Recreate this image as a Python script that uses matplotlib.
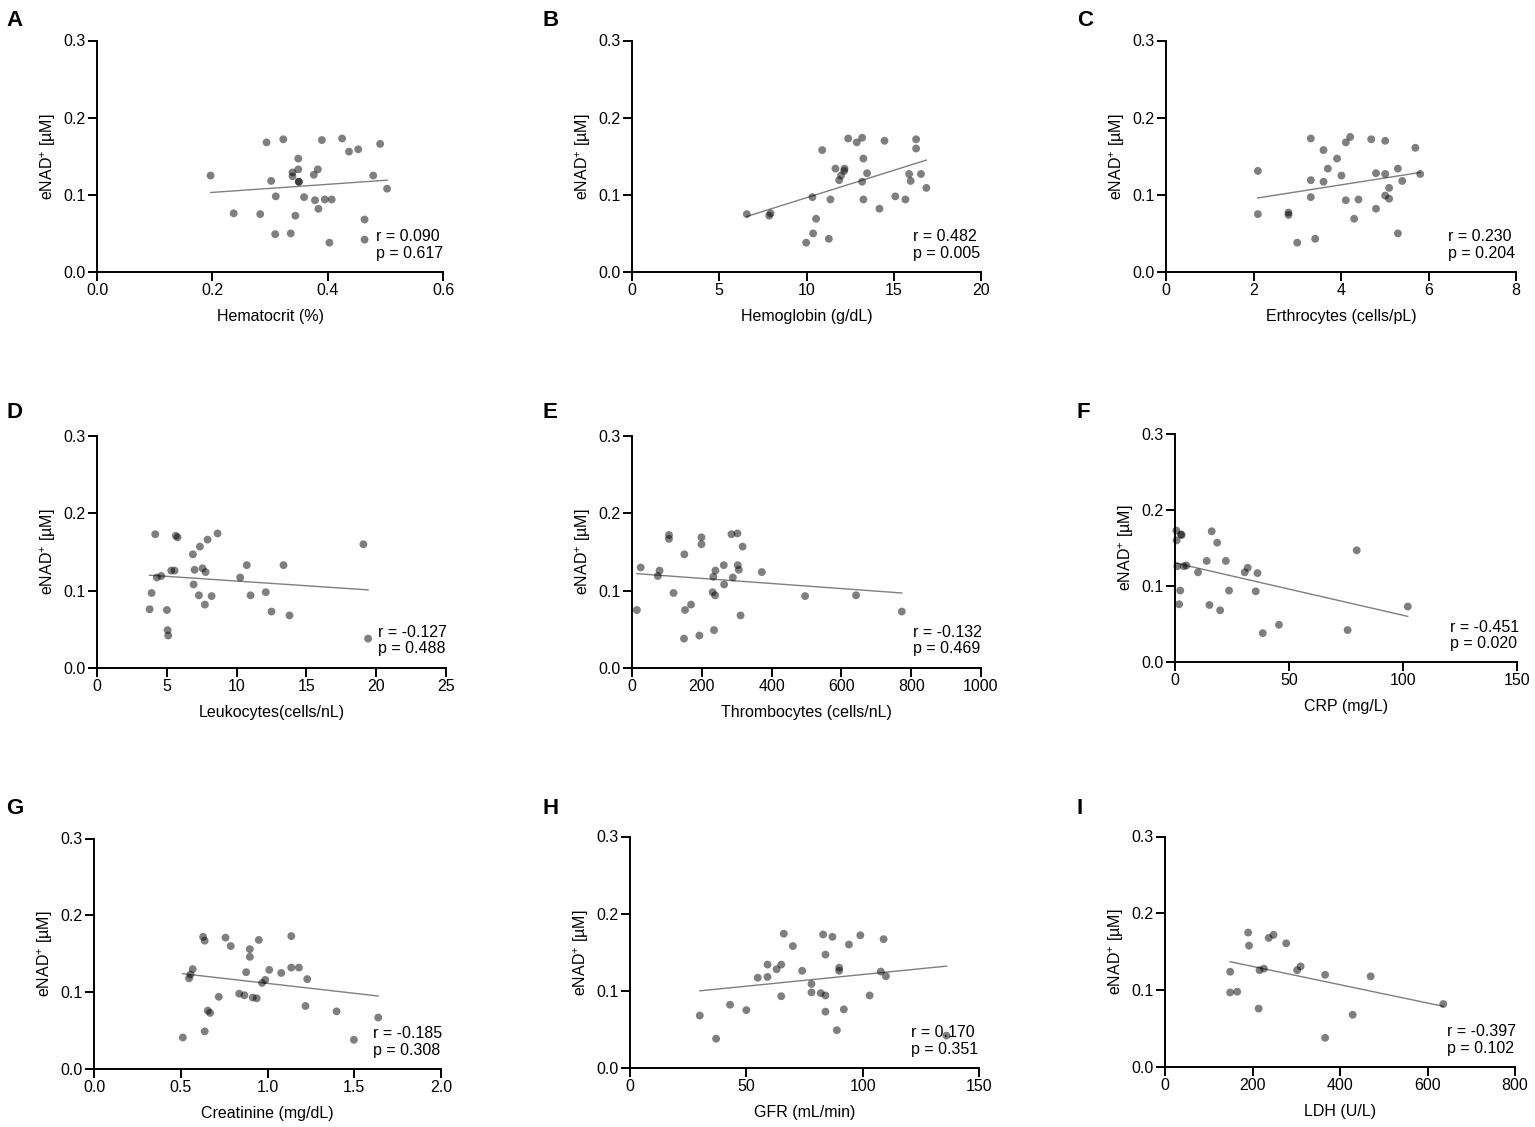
import numpy as np
import matplotlib
matplotlib.use('Agg')
import matplotlib.pyplot as plt

plt.rcParams['font.family'] = ['Liberation Sans', 'DejaVu Sans']
plt.rcParams['mathtext.fontset'] = 'custom'
plt.rcParams['mathtext.rm'] = 'Liberation Sans'
plt.rcParams['mathtext.it'] = 'Liberation Sans:italic'

# values
hct_x = [0.197, 0.294, 0.323, 0.390, 0.425, 0.437, 0.453, 0.491, 0.349, 0.339, 0.349,
         0.383, 0.376, 0.339, 0.302, 0.350, 0.350, 0.479, 0.503, 0.310, 0.359, 0.378,
         0.395, 0.407, 0.384, 0.237, 0.283, 0.344, 0.464, 0.309, 0.336, 0.403, 0.464]
hct_y = [0.125, 0.168, 0.172, 0.171, 0.173, 0.156, 0.159, 0.166, 0.147, 0.129, 0.133,
         0.133, 0.126, 0.124, 0.118, 0.117, 0.117, 0.125, 0.108, 0.098, 0.097, 0.093,
         0.094, 0.094, 0.082, 0.076, 0.075, 0.073, 0.068, 0.049, 0.050, 0.038, 0.042]

hb_x = [6.58, 7.86, 7.94, 10.90, 12.39, 13.19, 12.88, 14.47, 16.28, 16.28, 13.26, 11.66,
        12.18, 12.16, 11.98, 11.87, 13.47, 13.19, 15.88, 16.56, 15.97, 16.87, 10.34, 11.37,
        13.26, 15.09, 15.67, 14.18, 10.55, 10.38, 9.98, 11.28]
hb_y = [0.075, 0.073, 0.076, 0.158, 0.173, 0.174, 0.168, 0.170, 0.172, 0.160, 0.147, 0.134,
        0.134, 0.131, 0.125, 0.119, 0.128, 0.117, 0.127, 0.127, 0.118, 0.109, 0.097, 0.094,
        0.094, 0.098, 0.094, 0.082, 0.069, 0.050, 0.038, 0.043]

ery_x = [2.10, 2.10, 2.80, 2.80, 3.31, 3.31, 3.31, 3.41, 3.00, 3.60, 3.70, 3.60, 3.91, 4.01,
         4.11, 4.21, 4.11, 4.40, 4.30, 4.69, 5.01, 4.80, 5.01, 4.80, 5.01, 5.10, 5.10, 5.30,
         5.40, 5.30, 5.70, 5.81]
ery_y = [0.131, 0.075, 0.077, 0.074, 0.173, 0.119, 0.097, 0.043, 0.038, 0.158, 0.134, 0.117,
         0.147, 0.125, 0.168, 0.175, 0.093, 0.094, 0.069, 0.172, 0.170, 0.128, 0.127, 0.082,
         0.099, 0.095, 0.109, 0.134, 0.118, 0.050, 0.161, 0.127]

leu_x = [3.77, 3.91, 4.17, 4.29, 4.60, 5.01, 5.06, 5.10, 5.32, 5.56, 5.65, 5.77, 6.87, 6.92,
         6.99, 7.37, 7.30, 7.56, 7.78, 7.73, 7.92, 8.21, 8.64, 10.26, 10.73, 11.0, 12.09,
         12.50, 13.36, 13.79, 19.08, 19.42]
leu_y = [0.076, 0.097, 0.173, 0.117, 0.119, 0.075, 0.049, 0.042, 0.126, 0.126, 0.171, 0.169,
         0.147, 0.108, 0.127, 0.157, 0.094, 0.129, 0.124, 0.082, 0.166, 0.093, 0.174, 0.117,
         0.133, 0.094, 0.098, 0.073, 0.133, 0.068, 0.160, 0.038]

thr_x = [14, 25, 74, 79, 106, 106, 119, 150, 152, 169, 149, 193, 199, 199, 231, 238, 233,
         239, 235, 264, 263, 285, 302, 317, 289, 303, 306, 311, 372, 496, 642, 773]
thr_y = [0.075, 0.130, 0.119, 0.126, 0.172, 0.167, 0.097, 0.147, 0.075, 0.082, 0.038, 0.042,
         0.169, 0.160, 0.098, 0.094, 0.118, 0.126, 0.049, 0.108, 0.133, 0.173, 0.174, 0.157,
         0.117, 0.133, 0.127, 0.068, 0.124, 0.093, 0.094, 0.073]

crp_x = [0.6, 0.7, 1.0, 1.8, 2.3, 2.6, 2.9, 3.8, 5.0, 10.1, 13.9, 15.1, 16.1, 18.5, 19.8,
         22.3, 23.7, 30.6, 31.9, 36.2, 35.4, 38.5, 45.6, 75.7, 79.7, 102.1]
crp_y = [0.173, 0.160, 0.126, 0.076, 0.094, 0.168, 0.167, 0.126, 0.127, 0.118, 0.133, 0.075,
         0.172, 0.157, 0.068, 0.133, 0.094, 0.118, 0.124, 0.117, 0.093, 0.038, 0.049, 0.042,
         0.147, 0.073]

cre_x = [0.512, 0.548, 0.556, 0.569, 0.629, 0.638, 0.638, 0.656, 0.669, 0.719, 0.758, 0.788,
         0.837, 0.867, 0.877, 0.898, 0.898, 0.915, 0.938, 0.950, 0.969, 0.987, 1.010, 1.079,
         1.137, 1.137, 1.181, 1.229, 1.219, 1.398, 1.498, 1.638]
cre_y = [0.041, 0.118, 0.123, 0.130, 0.172, 0.167, 0.049, 0.076, 0.073, 0.094, 0.171, 0.160,
         0.098, 0.096, 0.126, 0.156, 0.146, 0.093, 0.092, 0.168, 0.112, 0.116, 0.129, 0.125,
         0.173, 0.132, 0.132, 0.117, 0.082, 0.075, 0.038, 0.067]

gfr_x = [30.0, 37.0, 43.0, 50.0, 54.9, 59.1, 59.1, 63.0, 65.0, 65.0, 66.1, 70.0, 74.0, 78.0,
         78.0, 82.0, 83.0, 84.0, 84.0, 84.0, 87.0, 89.9, 89.9, 88.9, 91.9, 94.1, 99.0, 103.0,
         107.8, 109.0, 110.0, 136.0]
gfr_y = [0.068, 0.038, 0.082, 0.075, 0.117, 0.134, 0.118, 0.128, 0.134, 0.093, 0.174, 0.158,
         0.126, 0.109, 0.098, 0.097, 0.173, 0.147, 0.094, 0.073, 0.170, 0.130, 0.126, 0.049,
         0.076, 0.160, 0.172, 0.094, 0.125, 0.167, 0.119, 0.042]

ldh_x = [149, 149, 165, 190, 192, 214, 216, 226, 237, 248, 277, 302, 310, 366, 366, 429,
         470, 636]
ldh_y = [0.124, 0.097, 0.098, 0.175, 0.158, 0.076, 0.126, 0.128, 0.168, 0.172, 0.161, 0.126,
         0.131, 0.120, 0.038, 0.068, 0.118, 0.082]

# regression line values at the smallest and largest x
fit_start = [0.103, 0.072, 0.096, 0.120, 0.122, 0.130, 0.124, 0.100, 0.137]
fit_end = [0.119, 0.145, 0.129, 0.101, 0.097, 0.060, 0.095, 0.132, 0.079]

r_text = ['r = 0.090', 'r = 0.482', 'r = 0.230', 'r = -0.127', 'r = -0.132', 'r = -0.451',
          'r = -0.185', 'r = 0.170', 'r = -0.397']
p_text = ['p = 0.617', 'p = 0.005', 'p = 0.204', 'p = 0.488', 'p = 0.469', 'p = 0.020',
          'p = 0.308', 'p = 0.351', 'p = 0.102']

letters = ['A', 'B', 'C', 'D', 'E', 'F', 'G', 'H', 'I']
xlabels = ['Hematocrit (%)', 'Hemoglobin (g/dL)', 'Erthrocytes (cells/pL)',
           'Leukocytes(cells/nL)', 'Thrombocytes (cells/nL)', 'CRP (mg/L)',
           'Creatinine (mg/dL)', 'GFR (mL/min)', 'LDH (U/L)']
xticks = [[0.0, 0.2, 0.4, 0.6], [0, 5, 10, 15, 20], [0, 2, 4, 6, 8], [0, 5, 10, 15, 20, 25],
          [0, 200, 400, 600, 800, 1000], [0, 50, 100, 150], [0.0, 0.5, 1.0, 1.5, 2.0],
          [0, 50, 100, 150], [0, 200, 400, 600, 800]]
xticklabels = [['0.0', '0.2', '0.4', '0.6'], None, None, None, None, None,
               ['0.0', '0.5', '1.0', '1.5', '2.0'], None, None]
yticks = [0.0, 0.1, 0.2, 0.3]

xs = [hct_x, hb_x, ery_x, leu_x, thr_x, crp_x, cre_x, gfr_x, ldh_x]
ys = [hct_y, hb_y, ery_y, leu_y, thr_y, crp_y, cre_y, gfr_y, ldh_y]

# axes boxes in pixels: left, right, bottom, top
boxes = [(97, 443, 272, 40.5), (632, 981, 272, 40.5), (1166, 1516, 272, 40.5),
         (97, 446, 668, 436), (632, 981, 668, 436), (1175, 1517, 662, 434),
         (94, 441, 1069, 838.5), (630, 979, 1068, 836.5), (1165, 1515, 1067, 836.5)]
letter_pos = [(6, 20), (542, 20), (1077, 20), (6, 412), (542, 412), (1077, 412),
              (6, 808), (542, 808), (1077, 808)]

W, H = 1535, 1127
fig = plt.figure(figsize=(W / 100, H / 100), dpi=100)
fs = 11.5

for i in range(9):
    l, r, b, t = boxes[i]
    ax = fig.add_axes([l / W, 1 - b / H, (r - l) / W, (b - t) / H])
    x = np.array(xs[i])
    y = np.array(ys[i])
    ax.scatter(x, y, s=32, color='black', alpha=0.5, edgecolors='none',
               clip_on=False, zorder=3)
    ax.plot([x.min(), x.max()], [fit_start[i], fit_end[i]], color='#7f7f7f', lw=1.0,
            zorder=2)
    ax.set_xlim(xticks[i][0], xticks[i][-1])
    ax.set_ylim(0, 0.3)
    ax.set_xticks(xticks[i])
    if xticklabels[i] is not None:
        ax.set_xticklabels(xticklabels[i])
    ax.set_yticks(yticks)
    ax.set_yticklabels(['0.0', '0.1', '0.2', '0.3'])
    for s in ['top', 'right']:
        ax.spines[s].set_visible(False)
    for s in ['left', 'bottom']:
        ax.spines[s].set_linewidth(1.4)
    ax.tick_params(direction='out', length=6.5, width=1.4, labelsize=fs, pad=1.5)
    ax.set_xlabel(xlabels[i], fontsize=fs, labelpad=8)
    ax.set_ylabel(r'eNAD$^{+}$ [µM]', fontsize=fs, labelpad=4)
    ax.text(0.805, 0.153, r_text[i], transform=ax.transAxes, fontsize=fs,
            ha='left', va='center')
    ax.text(0.805, 0.082, p_text[i], transform=ax.transAxes, fontsize=fs,
            ha='left', va='center')
    fig.text(letter_pos[i][0] / W, 1 - letter_pos[i][1] / H, letters[i], fontsize=16,
             fontweight='bold', ha='left', va='center')

fig.savefig('out.png', dpi=100)
